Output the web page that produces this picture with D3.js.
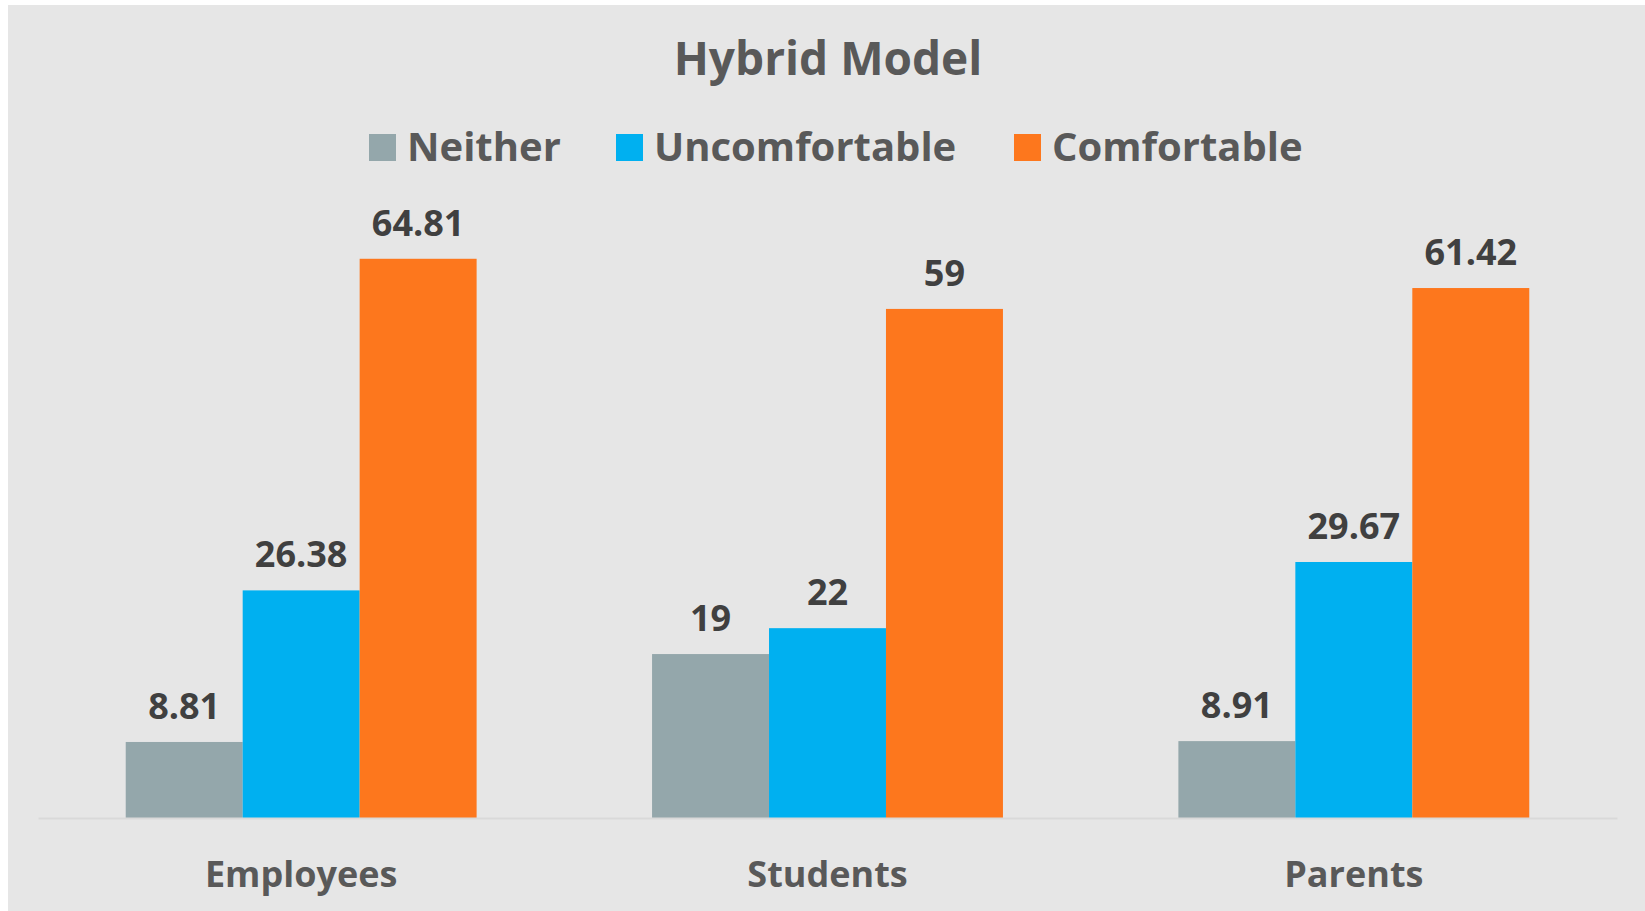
<!DOCTYPE html>
<html>
<head>
<meta charset="utf-8">
<script src="https://cdn.jsdelivr.net/npm/d3@7"></script>
<style>
  html, body { margin: 0; padding: 0; background: #ffffff; }
  svg { display: block; }
  text { font-family: "Open Sans", sans-serif; font-weight: bold; }
</style>
</head>
<body>
<svg></svg>
<script>
const categories = ["Employees", "Students", "Parents"];
const seriesNames = ["Neither", "Uncomfortable", "Comfortable"];
const neither = [8.81, 19, 8.91];
const uncomfortable = [26.38, 22, 29.67];
const comfortable = [64.81, 59, 61.42];
const colors = ["#94a7ab", "#00b0f0", "#fd771d"];

const width = 1645;
const height = 911;

const svg = d3.select("svg").attr("width", width).attr("height", height);

// grey chart area
svg.append("rect")
  .attr("x", 8).attr("y", 5)
  .attr("width", width - 8).attr("height", height - 5)
  .attr("fill", "#e6e6e6");

const rows = categories.map((c, i) => ({
  category: c,
  values: [neither[i], uncomfortable[i], comfortable[i]],
}));

const x = d3.scaleBand()
  .domain(categories)
  .range([38, 1617])
  .paddingInner(1 / 3)
  .paddingOuter(1 / 6);

const xSeries = d3.scaleBand()
  .domain(seriesNames)
  .range([0, x.bandwidth()]);

const y = d3.scaleLinear().domain([0, 70]).range([818, 214]);

const color = d3.scaleOrdinal().domain(seriesNames).range(colors);

// title
svg.append("text")
  .attr("x", 828)
  .attr("y", 75)
  .attr("text-anchor", "middle")
  .attr("fill", "#595959")
  .style("font-size", "46px")
  .text("Hybrid Model");

// legend
const legendX = [369, 616, 1014];
const legend = svg.append("g").attr("class", "legend");
seriesNames.forEach((name, i) => {
  legend.append("rect")
    .attr("x", legendX[i]).attr("y", 134)
    .attr("width", 27).attr("height", 27)
    .attr("fill", color(name));
  legend.append("text")
    .attr("x", legendX[i] + 38)
    .attr("y", 161)
    .attr("fill", "#595959")
    .style("font-size", "40px")
    .text(name);
});

// bars
const groups = svg.append("g").attr("class", "bars")
  .selectAll("g")
  .data(rows)
  .enter()
  .append("g")
  .attr("transform", (d) => `translate(${x(d.category)},0)`);

groups.selectAll("rect")
  .data((d) => d.values.map((v, j) => ({ name: seriesNames[j], value: v })))
  .enter()
  .append("rect")
  .attr("x", (d) => xSeries(d.name))
  .attr("y", (d) => y(d.value))
  .attr("width", xSeries.bandwidth())
  .attr("height", (d) => y(0) - y(d.value))
  .attr("fill", (d) => color(d.name));

groups.selectAll("text")
  .data((d) => d.values.map((v, j) => ({ name: seriesNames[j], value: v })))
  .enter()
  .append("text")
  .attr("x", (d) => xSeries(d.name) + xSeries.bandwidth() / 2)
  .attr("y", (d) => y(d.value) - 23)
  .attr("text-anchor", "middle")
  .attr("fill", "#404040")
  .style("font-size", "36px")
  .text((d) => d.value);

// category axis
const axis = svg.append("g")
  .attr("transform", `translate(0,${y(0)})`)
  .call(d3.axisBottom(x).tickSize(0).tickSizeOuter(0));

axis.select(".domain")
  .attr("stroke", "#d9d9d9")
  .attr("stroke-width", 2);

axis.selectAll(".tick text")
  .attr("y", 69)
  .attr("dy", 0)
  .attr("fill", "#595959")
  .style("font-family", "'Open Sans', sans-serif")
  .style("font-weight", "bold")
  .style("font-size", "36px");
</script>
</body>
</html>
